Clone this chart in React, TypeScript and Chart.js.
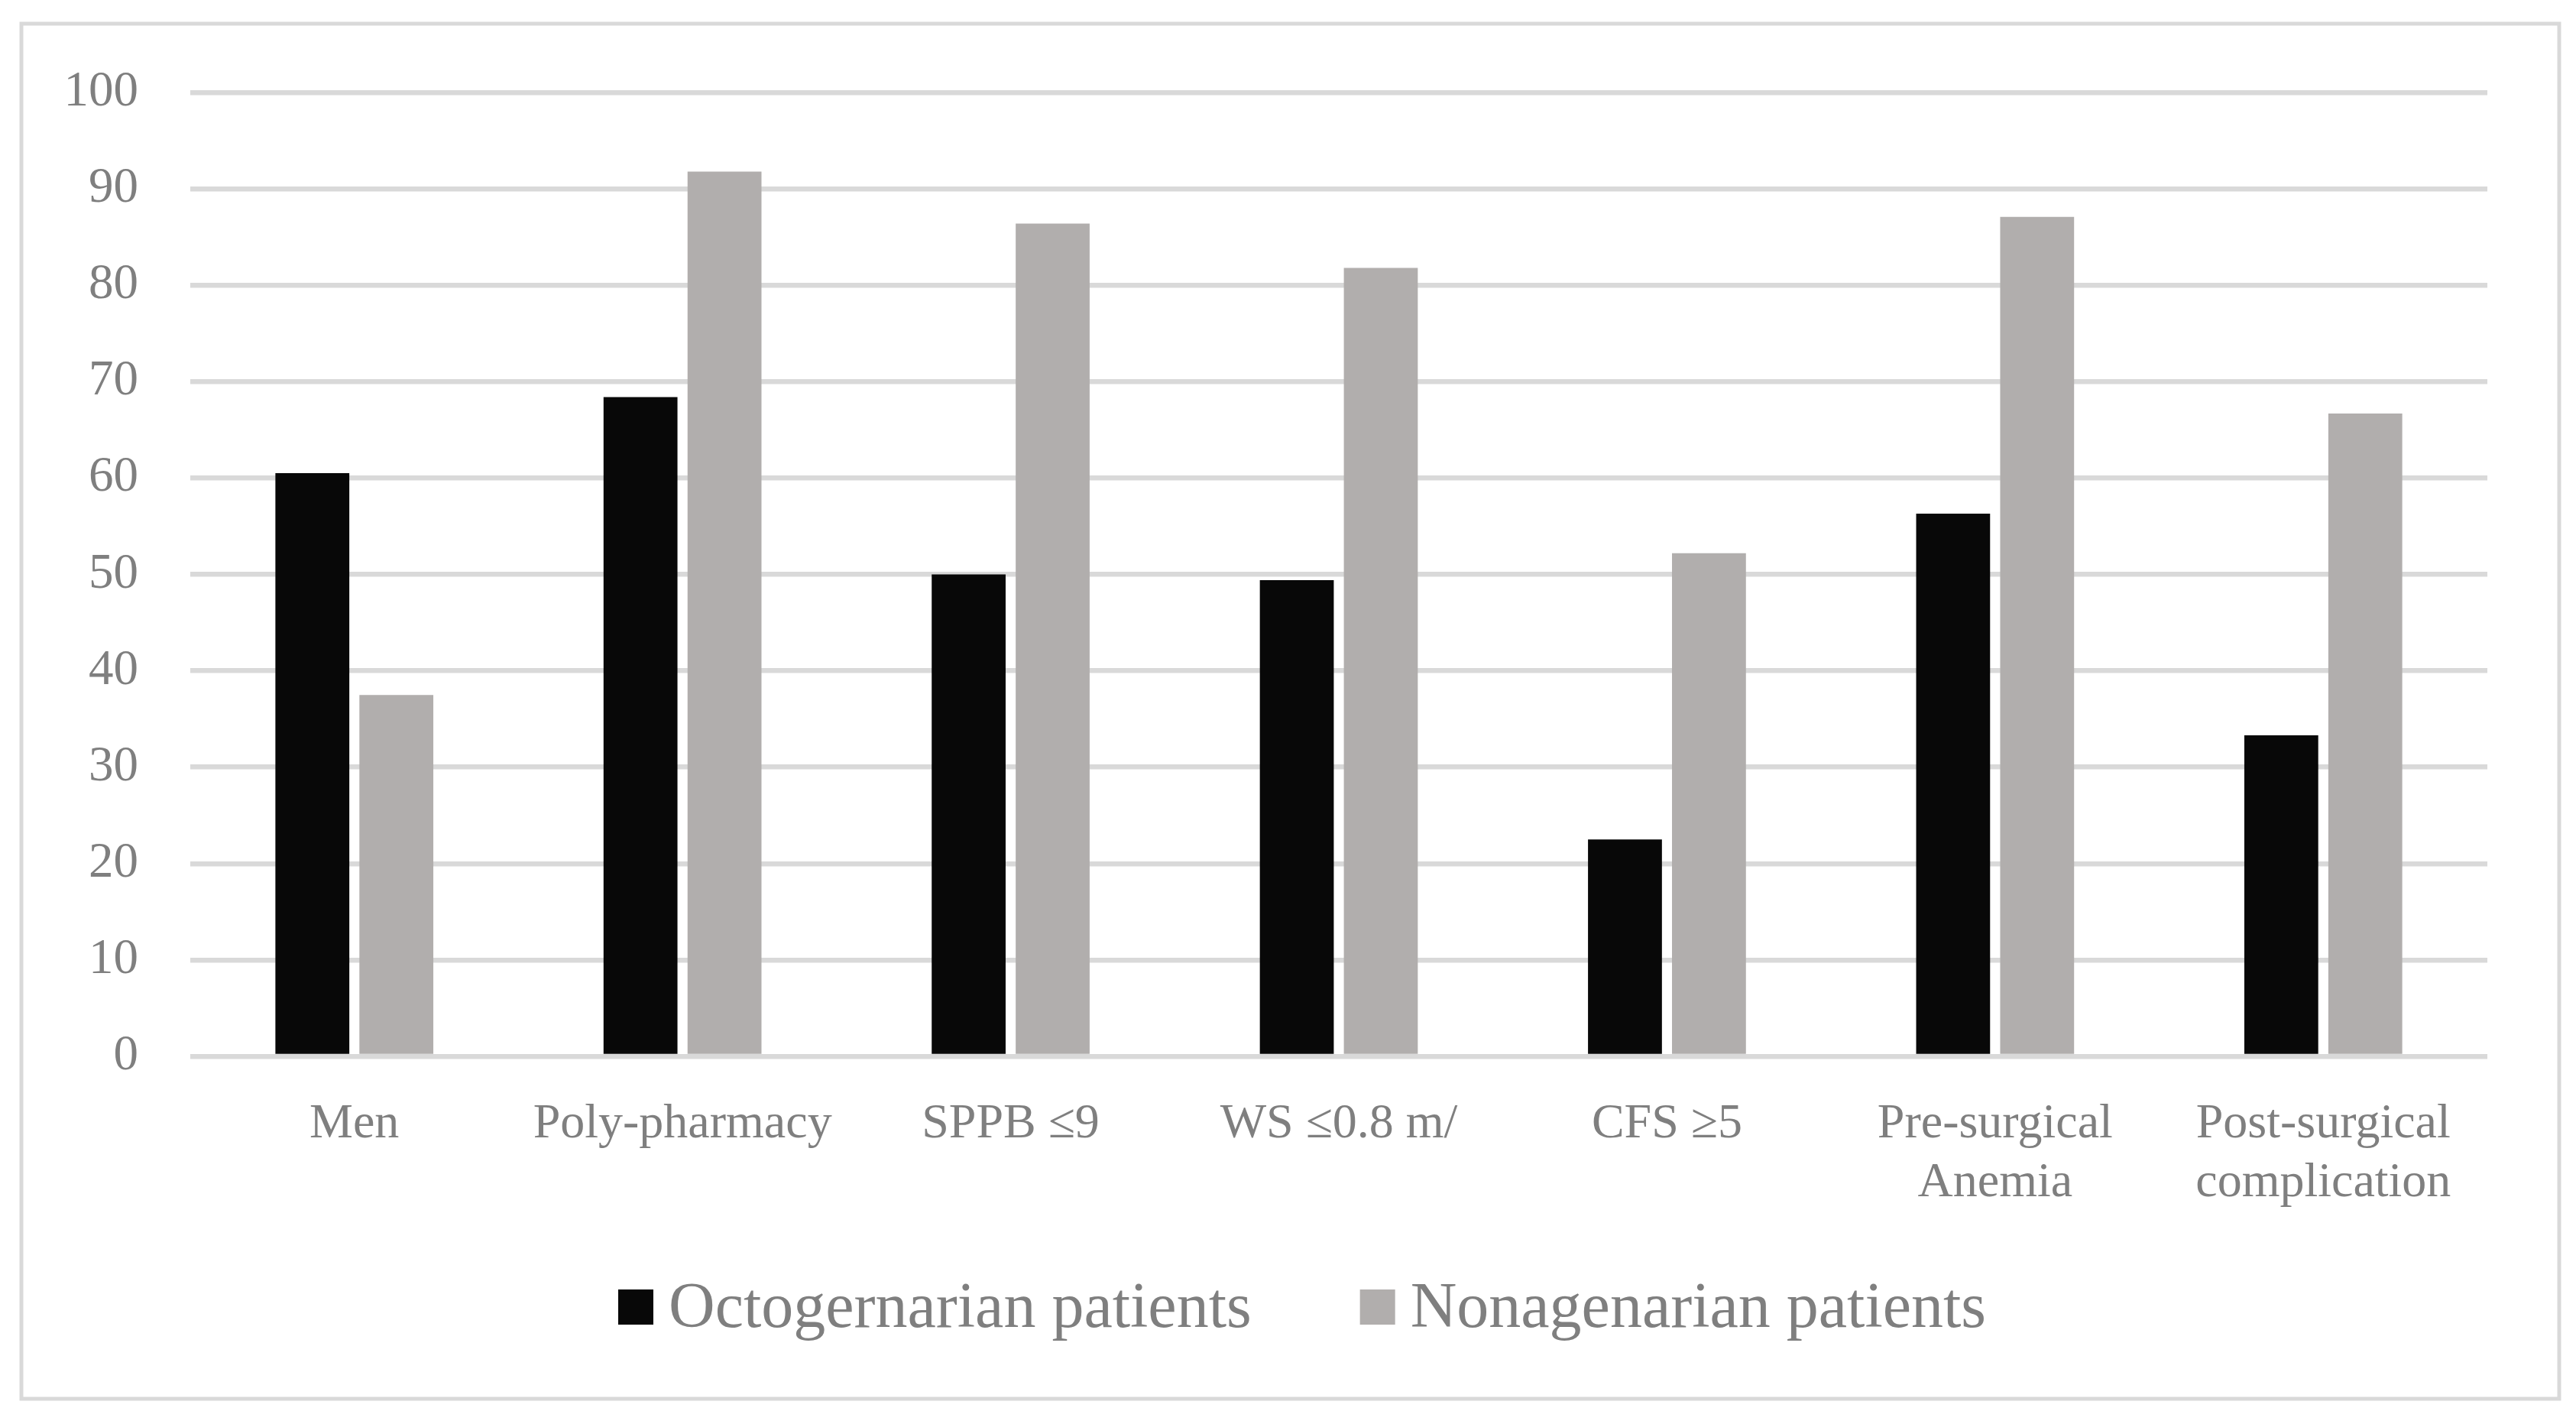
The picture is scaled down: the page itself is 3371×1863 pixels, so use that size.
import React, { useEffect, useRef } from "react";
import { Chart, registerables } from "chart.js";

Chart.register(...registerables);

const categories: (string | string[])[] = [
  "Men",
  "Poly-pharmacy",
  "SPPB ≤9",
  "WS ≤0.8 m/",
  "CFS ≥5",
  ["Pre-surgical", "Anemia"],
  ["Post-surgical", "complication"],
];
const seriesNames = ["Octogernarian patients", "Nonagenarian patients"];
const octogenarian = [60.5, 68.4, 50.0, 49.4, 22.5, 56.3, 33.3];
const nonagenarian = [37.5, 91.8, 86.4, 81.8, 52.2, 87.1, 66.7];
const seriesColors = ["#080808", "#b1aead"];

const W = 3371;
const H = 1863;
const FONT = "'Liberation Serif', 'DejaVu Serif', serif";
const TEXT = "#7f7f7f";
const GRID = "#d9d9d9";

const framePlugin = {
  id: "frame",
  beforeDraw(chart: any) {
    const ctx = chart.ctx;
    ctx.save();
    ctx.fillStyle = "#ffffff";
    ctx.fillRect(0, 0, chart.width, chart.height);
    ctx.strokeStyle = GRID;
    ctx.lineWidth = 5;
    ctx.strokeRect(28, 31, 3321, 1799);
    ctx.restore();
  },
};

const legendPlugin = {
  id: "customLegend",
  afterDraw(chart: any) {
    const ctx = chart.ctx;
    const size = 84;
    const box = 46;
    const gapText = 20;
    const gapItem = 142;
    const cx = 1704;
    const cy = 1710;
    ctx.save();
    ctx.font = `${size}px ${FONT}`;
    const items = chart.data.datasets.map((d: any) => ({
      label: d.label,
      color: d.backgroundColor,
      w: ctx.measureText(d.label).width,
    }));
    let total = 0;
    items.forEach((it: any, i: number) => {
      total += box + gapText + it.w + (i < items.length - 1 ? gapItem : 0);
    });
    let x = cx - total / 2;
    ctx.textBaseline = "middle";
    ctx.textAlign = "left";
    items.forEach((it: any) => {
      ctx.fillStyle = it.color;
      ctx.fillRect(x, cy - box / 2, box, box);
      x += box + gapText;
      ctx.fillStyle = TEXT;
      ctx.fillText(it.label, x, cy + 4);
      x += it.w + gapItem;
    });
    ctx.restore();
  },
};

export default function App() {
  const ref = useRef<HTMLCanvasElement | null>(null);

  useEffect(() => {
    document.body.style.margin = "0";
    if (!ref.current) return;
    const chart = new Chart(ref.current, {
      type: "bar",
      data: {
        labels: categories,
        datasets: [
          {
            label: seriesNames[0],
            data: octogenarian,
            backgroundColor: seriesColors[0],
            categoryPercentage: 0.512,
            barPercentage: 0.88,
          },
          {
            label: seriesNames[1],
            data: nonagenarian,
            backgroundColor: seriesColors[1],
            categoryPercentage: 0.512,
            barPercentage: 0.88,
          },
        ],
      },
      options: {
        responsive: false,
        devicePixelRatio: 1,
        animation: false,
        layout: { padding: { left: 0, right: 116, top: 121, bottom: 181 } },
        plugins: {
          legend: { display: false },
          tooltip: { enabled: false },
        },
        scales: {
          x: {
            grid: { display: false, drawTicks: false },
            border: { display: false },
            ticks: {
              color: TEXT,
              font: { family: FONT, size: 64, lineHeight: 1.2 },
              padding: 51,
              maxRotation: 0,
              autoSkip: false,
            },
            afterFit: (s: any) => {
              s.height = 300;
            },
          },
          y: {
            min: 0,
            max: 100,
            grid: { color: GRID, lineWidth: 6.5, drawTicks: false },
            border: { display: false },
            ticks: {
              stepSize: 10,
              color: TEXT,
              font: { family: FONT, size: 65 },
              padding: 68,
            },
            afterFit: (s: any) => {
              s.width = 249;
            },
          },
        },
      },
      plugins: [framePlugin, legendPlugin],
    });
    return () => chart.destroy();
  }, []);

  return (
    <div style={{ width: W, height: H, overflow: "hidden" }}>
      <canvas ref={ref} width={W} height={H} style={{ display: "block" }} />
    </div>
  );
}
